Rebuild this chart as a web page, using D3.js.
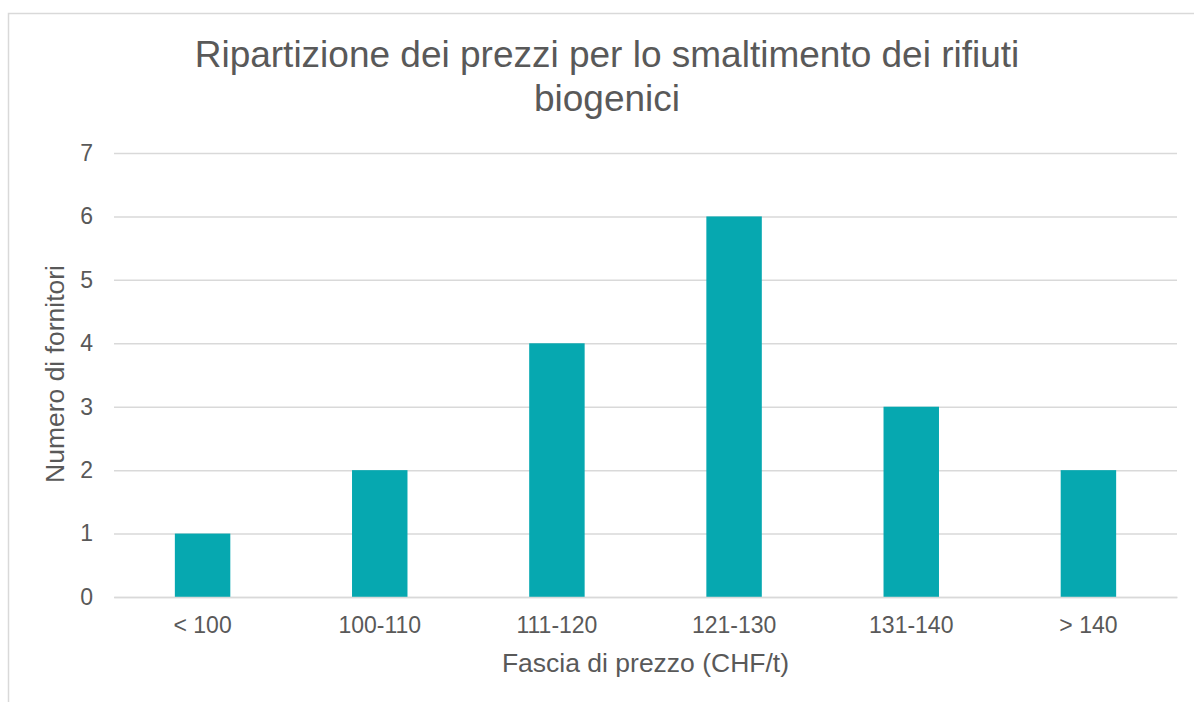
<!DOCTYPE html>
<html><head><meta charset="utf-8">
<script src="https://cdn.jsdelivr.net/npm/d3@7"></script>
<style>html,body{margin:0;padding:0;background:#fff;}svg{display:block;font-family:Arial,"Liberation Sans",sans-serif;}</style>
</head><body>
<svg id="chart" width="1194" height="702"></svg>
<script>
const categories = ["< 100", "100-110", "111-120", "121-130", "131-140", "> 140"];
const values = [1, 2, 4, 6, 3, 2];
const yTicks = [0, 1, 2, 3, 4, 5, 6, 7];
const titleLines = ["Ripartizione dei prezzi per lo smaltimento dei rifiuti", "biogenici"];
const xTitle = "Fascia di prezzo (CHF/t)";
const yTitle = "Numero di fornitori";

const svg = d3.select("#chart");
const textColor = "#595959";
const gridColor = "#d9d9d9";
const barColor = "#06a8b0";

svg.append("rect").attr("x", 8.5).attr("y", 13.5).attr("width", 1300).attr("height", 800)
  .attr("fill", "#fff").attr("stroke", gridColor).attr("stroke-width", 1.5);

const x = d3.scaleBand().domain(categories).range([114, 1177]).paddingInner(0.687).paddingOuter(0.3435);
const y = d3.scaleLinear().domain([0, 7]).range([597, 153]);

// gridlines
const yAxis = d3.axisLeft(y).tickValues(yTicks).tickSize(-(1177 - 114)).tickPadding(21).tickFormat(d3.format("d"));
const gy = svg.append("g").attr("transform", "translate(114,0)").call(yAxis);
gy.select(".domain").remove();
gy.selectAll(".tick line").attr("stroke", gridColor).attr("stroke-width", 1.5);
gy.selectAll(".tick text").attr("fill", textColor).style("font-size", "23px").attr("font-family", "Arial, 'Liberation Sans', sans-serif");

// bars
svg.append("g").selectAll("rect").data(categories).join("rect")
  .attr("x", d => x(d))
  .attr("width", x.bandwidth())
  .attr("y", (d, i) => y(values[i]))
  .attr("height", (d, i) => y(0) - y(values[i]))
  .attr("fill", barColor);

// x axis
const xAxis = d3.axisBottom(x).tickSize(0).tickPadding(20);
const gx = svg.append("g").attr("transform", "translate(0,597)").call(xAxis);
gx.select(".domain").attr("stroke", gridColor).attr("stroke-width", 1.5);
gx.selectAll(".tick text").attr("fill", textColor).style("font-size", "23px").attr("font-family", "Arial, 'Liberation Sans', sans-serif");

// title
const t = svg.append("text").attr("text-anchor", "middle").attr("fill", textColor).style("font-size", "37px");
titleLines.forEach((l, i) => t.append("tspan").attr("x", 607).attr("y", 67 + i * 44).text(l));

// axis titles
svg.append("text").attr("x", 645.5).attr("y", 672).attr("text-anchor", "middle")
  .attr("fill", textColor).style("font-size", "26.5px").text(xTitle);
svg.append("text").attr("transform", "translate(64,374) rotate(-90)").attr("text-anchor", "middle")
  .attr("fill", textColor).style("font-size", "26.5px").text(yTitle);
</script>
</body></html>
